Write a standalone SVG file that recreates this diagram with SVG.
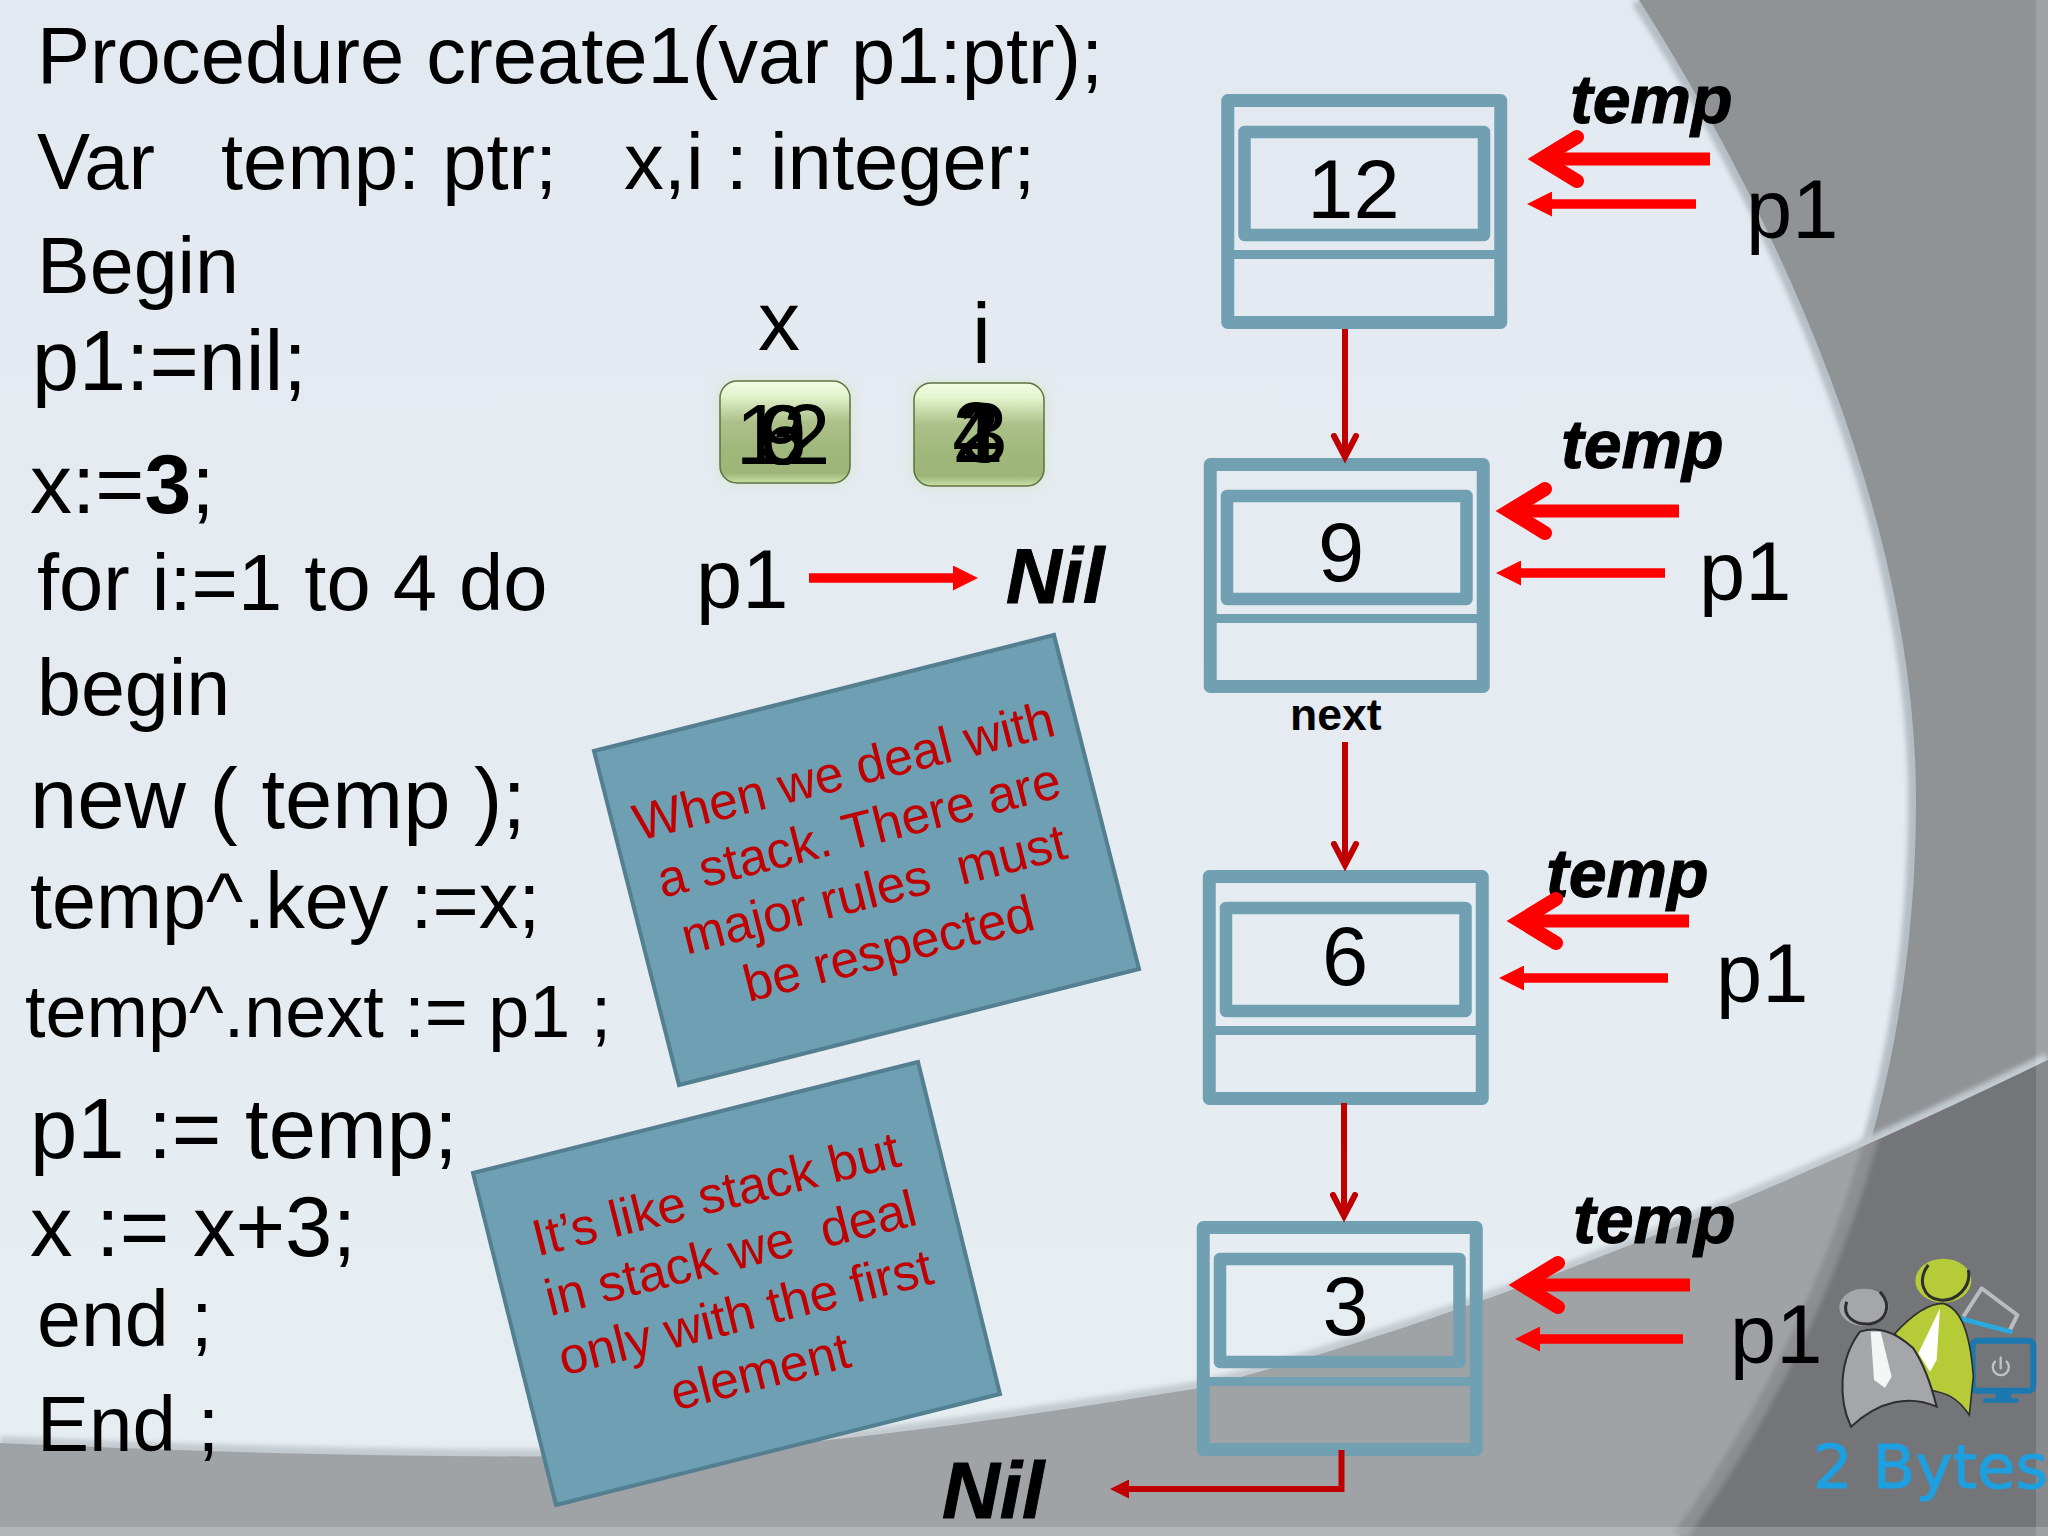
<svg xmlns="http://www.w3.org/2000/svg" width="2048" height="1536" viewBox="0 0 2048 1536">
<style>
text{font-family:"Liberation Sans",Arial,sans-serif;fill:#000}
.bi{font-weight:bold;font-style:italic;stroke:#000;stroke-width:1}
.p1{font-size:83px}
.temp{font-size:68px}
.num{font-size:83px;text-anchor:middle}
.ov{font-size:85px;text-anchor:middle}
.note{font-size:51.5px;fill:#C00000;text-anchor:middle;white-space:pre}
.frame{fill:none;stroke:#70A0B2;stroke-linejoin:round}
.sticky{fill:#6F9FB2;stroke:#537F90;stroke-width:4}
.link{fill:none;stroke:#C00000;stroke-width:6}
.thick{fill:none;stroke:#FF0000;stroke-width:13}
.thin{fill:none;stroke:#FF0000;stroke-width:9.5}
.btn{stroke:#5E7242;stroke-width:1.5}
</style>
<defs>
<linearGradient id="bg" x1="0" y1="0" x2="0" y2="1"><stop offset="0" stop-color="#E3E9F0"/><stop offset="1" stop-color="#E7EEF2"/></linearGradient>
<linearGradient id="btn" x1="0" y1="0" x2="0" y2="1"><stop offset="0" stop-color="#F2FDE2"/><stop offset=".14" stop-color="#E4F4CE"/><stop offset=".4" stop-color="#ACC18A"/><stop offset=".7" stop-color="#9FB77A"/><stop offset=".9" stop-color="#9DB678"/><stop offset="1" stop-color="#C8E0A4"/></linearGradient>
<filter id="soft" x="-5%" y="-5%" width="110%" height="110%"><feGaussianBlur stdDeviation="2.5"/></filter>
<filter id="halo" x="-20%" y="-20%" width="140%" height="140%"><feGaussianBlur stdDeviation="5"/></filter>
<clipPath id="rightZone"><path d="M1639,0 C1760,190 1916,500 1916,800 C1916,1100 1820,1340 1680,1536 H2048 V0 Z"/></clipPath>
<clipPath id="bottomZone"><path d="M0,1443 C200,1452 400,1458 600,1456 C800,1450 1000,1420 1200,1388 C1500,1310 1800,1180 2048,1060 V1536 H0 Z"/></clipPath>
<marker id="openHead" markerUnits="userSpaceOnUse" viewBox="0 0 40 40" refX="24" refY="20" markerWidth="40" markerHeight="40" orient="auto"><path d="M3,9 L24,20 L3,31" fill="none" stroke="#C00000" stroke-width="6" stroke-linecap="round" stroke-miterlimit="10"/></marker>
<marker id="darkTri" markerUnits="userSpaceOnUse" viewBox="0 0 19 19" refX="0" refY="9.5" markerWidth="19" markerHeight="19" orient="auto"><path d="M0,0 L19,9.5 L0,19 Z" fill="#C00000"/></marker>
<marker id="bigHead" markerUnits="userSpaceOnUse" viewBox="0 0 70 60" refX="50" refY="30" markerWidth="70" markerHeight="60" orient="auto"><path d="M14,8 L50,30 L14,52" fill="none" stroke="#FF0000" stroke-width="14" stroke-linecap="round" stroke-miterlimit="10"/></marker>
<marker id="redTri" markerUnits="userSpaceOnUse" viewBox="0 0 25 25" refX="0" refY="12.5" markerWidth="25" markerHeight="25" orient="auto"><path d="M0,0 L25,12.5 L0,25 Z" fill="#FF0000"/></marker>
</defs>

<g id="background">
<rect width="2048" height="1536" fill="url(#bg)"/>
<path d="M1639,0 C1760,190 1916,500 1916,800 C1916,1100 1820,1340 1680,1536" fill="none" stroke="#B4BEC4" stroke-width="16" filter="url(#soft)"/>
<path d="M1639,0 C1760,190 1916,500 1916,800 C1916,1100 1820,1340 1680,1536 H2048 V0 Z" fill="#909396"/>
<path d="M0,1443 C200,1452 400,1458 600,1456 C800,1450 1000,1420 1200,1388 C1500,1310 1800,1180 2048,1060" fill="none" stroke="#C3CBD0" stroke-width="14" filter="url(#soft)"/>
<path d="M0,1443 C200,1452 400,1458 600,1456 C800,1450 1000,1420 1200,1388 C1500,1310 1800,1180 2048,1060 V1536 H0 Z" fill="#A0A3A6"/>
<path clip-path="url(#rightZone)" d="M0,1443 C200,1452 400,1458 600,1456 C800,1450 1000,1420 1200,1388 C1500,1310 1800,1180 2048,1060 V1536 H0 Z" fill="#747578"/>
<g clip-path="url(#bottomZone)"><path d="M1916,800 C1916,1100 1820,1340 1680,1536" fill="none" stroke="#8C8E91" stroke-width="14" filter="url(#soft)"/></g>
<rect x="0" y="1527" width="2048" height="9" fill="#FFFFFF" opacity=".2"/>
<rect x="2036" y="0" width="12" height="1536" fill="#FFFFFF" opacity=".15"/>
</g>

<g id="code">
<text x="37" y="83" font-size="79.6">Procedure create1(var p1:ptr);</text>
<text y="189" font-size="79.6"><tspan x="37">Var</tspan><tspan x="221">temp: ptr;</tspan><tspan x="624">x,i : integer;</tspan></text>
<text x="37" y="293" font-size="79">Begin</text>
<text x="32" y="390" font-size="84.5">p1:=nil;</text>
<text x="30" y="513" font-size="84">x:=<tspan font-weight="bold">3</tspan>;</text>
<text x="37" y="610" font-size="79.5">for i:=1 to 4 do</text>
<text x="37" y="715" font-size="79">begin</text>
<text x="30" y="828" font-size="85">new ( temp );</text>
<text x="30" y="928" font-size="79.2">temp^.key :=x;</text>
<text x="25" y="1037" font-size="73.8">temp^.next := p1 ;</text>
<text x="30" y="1158" font-size="85">p1 := temp;</text>
<text x="30" y="1256" font-size="85">x := x+3;</text>
<text x="37" y="1346" font-size="79">end ;</text>
<text x="37" y="1451" font-size="78">End ;</text>
</g>

<g id="var-x">
<text x="758" y="350" font-size="84">x</text>
<rect x="716" y="377" width="138" height="110" rx="20" fill="#DCE8DC" filter="url(#halo)"/>
<rect class="btn" x="720" y="381" width="130" height="102" rx="17" fill="url(#btn)"/>
<text class="ov" x="783" y="464">3</text>
<text class="ov" x="783" y="464">6</text>
<text class="ov" x="783" y="464">9</text>
<text class="ov" x="783" y="464">12</text>
</g>
<g id="var-i">
<text x="972" y="363" font-size="85">i</text>
<rect x="910" y="379" width="138" height="111" rx="20" fill="#DCE8DC" filter="url(#halo)"/>
<rect class="btn" x="914" y="383" width="130" height="103" rx="17" fill="url(#btn)"/>
<text class="ov" x="980" y="462">1</text>
<text class="ov" x="976" y="462">2</text>
<text class="ov" x="984" y="462">3</text>
<text class="ov" x="976" y="462">4</text>
</g>
<g id="p1-nil">
<text class="p1" x="696" y="608">p1</text>
<text class="bi" x="1006" y="603" font-size="77">Nil</text>
</g>

<g id="note-rules">
<polygon class="sticky" points="594,751 1054,635 1139,969 679,1085"/>
<g transform="translate(848,788) rotate(-14.2)">
<text class="note" x="0" y="0">When we deal with</text>
<text class="note" x="0" y="61">a stack. There are</text>
<text class="note" x="0" y="122">major rules  must</text>
<text class="note" x="0" y="183">be respected</text>
</g>
</g>
<g id="note-first">
<polygon class="sticky" points="473,1173 918,1062 1000,1394 556,1505"/>
<g transform="translate(720,1211) rotate(-14)">
<text class="note" x="0" y="0">It’s like stack but</text>
<text class="note" x="0" y="61">in stack we  deal</text>
<text class="note" x="0" y="122">only with the first</text>
<text class="note" x="0" y="183">element</text>
</g>
</g>

<g id="node-12" transform="translate(1221.5,94)">
<rect class="frame" x="6.25" y="6.5" width="273" height="222" stroke-width="13"/>
<rect class="frame" x="23" y="38" width="239.5" height="103" stroke-width="12.5"/>
<rect x="6" y="156" width="273" height="9" fill="#70A0B2"/>
<text class="num" x="132" y="124">12</text>
</g>
<g id="node-9" transform="translate(1204,458)">
<rect class="frame" x="6.25" y="6.5" width="273" height="222" stroke-width="13"/>
<rect class="frame" x="23" y="38" width="239.5" height="103" stroke-width="12.5"/>
<rect x="6" y="156" width="273" height="9" fill="#70A0B2"/>
<text class="num" x="137" y="123">9</text>
</g>
<g id="node-6" transform="translate(1203,870)">
<rect class="frame" x="6.25" y="6.5" width="273" height="222" stroke-width="13"/>
<rect class="frame" x="23" y="38" width="239.5" height="103" stroke-width="12.5"/>
<rect x="6" y="156" width="273" height="9" fill="#70A0B2"/>
<text class="num" x="142" y="115">6</text>
</g>
<g id="node-3" transform="translate(1197,1221)">
<rect class="frame" x="6.25" y="6.5" width="273" height="222" stroke-width="13"/>
<rect class="frame" x="23" y="38" width="239.5" height="103" stroke-width="12.5"/>
<rect x="6" y="156" width="273" height="9" fill="#70A0B2"/>
<text class="num" x="148.5" y="114">3</text>
</g>

<g id="labels">
<text class="bi temp" x="1570" y="123">temp</text>
<text class="p1" x="1746" y="238">p1</text>
<text class="bi temp" x="1561" y="468">temp</text>
<text class="p1" x="1699" y="600">p1</text>
<text font-size="44.5" font-weight="bold" x="1290" y="730">next</text>
<text class="bi temp" x="1546" y="897">temp</text>
<text class="p1" x="1716" y="1002">p1</text>
<text class="bi temp" x="1573" y="1243">temp</text>
<text class="p1" x="1730" y="1363">p1</text>
<text class="bi" x="942" y="1518" font-size="80">Nil</text>
</g>

<g id="connectors">
<path class="link" d="M1345,329 V457" marker-end="url(#openHead)"/>
<path class="link" d="M1345,742 V865" marker-end="url(#openHead)"/>
<path class="link" d="M1344,1103 V1216" marker-end="url(#openHead)"/>
<path class="link" d="M1341.5,1450 V1489 H1129" marker-end="url(#darkTri)"/>
<path class="thin" d="M809,578 H953" marker-end="url(#redTri)"/>
<path class="thick" d="M1710,159 H1541" marker-end="url(#bigHead)"/>
<path class="thin" d="M1696,204 H1552" marker-end="url(#redTri)"/>
<path class="thick" d="M1679,511 H1509" marker-end="url(#bigHead)"/>
<path class="thin" d="M1665,573 H1521" marker-end="url(#redTri)"/>
<path class="thick" d="M1689,921 H1520" marker-end="url(#bigHead)"/>
<path class="thin" d="M1668,978 H1524" marker-end="url(#redTri)"/>
<path class="thick" d="M1690,1285 H1522" marker-end="url(#bigHead)"/>
<path class="thin" d="M1683,1339 H1540" marker-end="url(#redTri)"/>
</g>

<g id="logo">
<g transform="translate(1780,1220) scale(.33333)">
<path d="M550,290 L605,205 L712,285 L690,330" fill="none" stroke="#B9BBBE" stroke-width="12" stroke-linejoin="round"/>
<path d="M548,297 L692,335" fill="none" stroke="#2AA9E0" stroke-width="14" stroke-linecap="round"/>
<rect x="578" y="362" width="182" height="150" rx="14" fill="none" stroke="#1B79B0" stroke-width="18"/>
<path d="M650,515 H692 L695,535 H715 V548 H610 V535 H645 Z" fill="#1B79B0"/>
<path d="M645,425 A24,24 0 1 0 680,425 M662,412 V445" fill="none" stroke="#C0C2C5" stroke-width="7" stroke-linecap="round"/>
<ellipse cx="490" cy="182" rx="84" ry="66" fill="#B5CB38"/>
<path d="M445,135 C410,180 430,235 480,240 C530,245 575,200 565,150" fill="none" stroke="#2E2E2E" stroke-width="9"/>
<path d="M345,340 C400,280 450,250 490,250 C540,265 570,330 580,470 L568,585 C530,530 500,520 450,510 Z" fill="#B5CB38" stroke="#2E2E2E" stroke-width="5"/>
<path d="M480,265 L415,400 L450,455 L470,420 Z" fill="#FFFFFF"/>
<ellipse cx="252" cy="262" rx="74" ry="56" fill="#A5A6A9"/>
<path d="M200,245 C185,290 225,315 270,312 C315,305 340,260 300,215" fill="none" stroke="#2E2E2E" stroke-width="9"/>
<path d="M213,620 C175,540 175,420 240,335 C290,320 340,330 400,385 C430,430 455,500 470,560 C390,525 300,540 213,620 Z" fill="#A5A6A9" stroke="#2E2E2E" stroke-width="6"/>
<path d="M272,335 L302,335 L335,470 L315,503 L282,480 Z" fill="#F4F5F5"/>
</g>
<text x="1813" y="1488" font-size="60" textLength="235" lengthAdjust="spacingAndGlyphs" style="font-family:'DejaVu Sans',sans-serif;fill:#1E9FE0;stroke:#1E9FE0;stroke-width:1">2 Bytes</text>
</g>
</svg>
